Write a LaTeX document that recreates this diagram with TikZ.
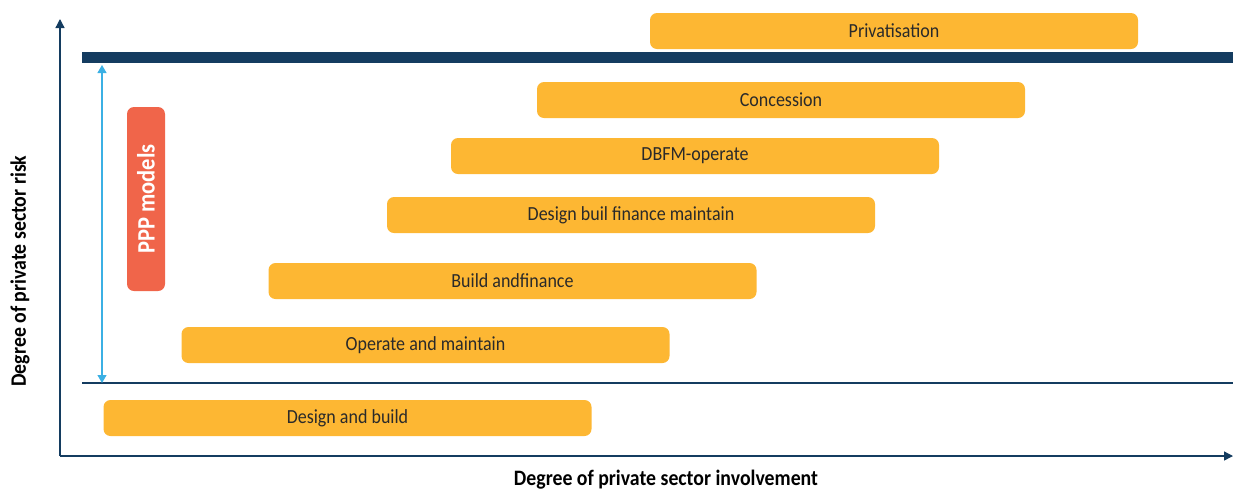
\documentclass[tikz,border=0pt]{standalone}
\usepackage{fontspec}
\setmainfont{Carlito}[FakeStretch=0.9]
\usetikzlibrary{arrows.meta}
\definecolor{navy}{HTML}{143C60}
\definecolor{sky}{HTML}{3BB0E4}
\definecolor{amber}{HTML}{FDB733}
\definecolor{coral}{HTML}{F0654A}
\definecolor{ink}{HTML}{2A2A2A}
\tikzset{
  bar/.style={fill=amber, rounded corners=7pt, draw=none, text=ink, font=\fontsize{20}{22}\selectfont, minimum width=488pt, minimum height=36pt},
  axis/.style={draw=navy, line width=1.3pt, -{Triangle[length=9pt,width=9pt]}},
  axlabel/.style={font=\fontsize{22}{24}\selectfont\bfseries, text=black},
}
\begin{document}
\begin{tikzpicture}[x=1pt,y=-1pt]
\useasboundingbox (0,0) rectangle (1233,491);
% axes
\coordinate (O) at (60,456);
\coordinate (Ytop) at (60,19);
\coordinate (Xend) at (1233,456);
\draw[axis] (O) -- (Ytop);
\draw[axis] (O) -- (Xend);
% separators
\coordinate (ta) at (82,57.5);
\coordinate (tb) at (1233,57.5);
\draw[navy, line width=11pt] (ta) -- (tb);
\coordinate (la) at (82,383);
\coordinate (lb) at (1233,383);
\draw[navy, line width=1.2pt] (la) -- (lb);
% blue double arrow
\coordinate (ba) at (102,65);
\coordinate (bb) at (102,383);
\draw[sky, line width=1.2pt, {Triangle[length=8pt,width=9pt]}-{Triangle[length=8pt,width=9pt]}] (ba) -- (bb);
% bars
\node[bar] (priv) at (894,31) {Privatisation};
\node[bar] (conc) at (781,100) {Concession};
\node[bar] (dbfm) at (695,156) {DBFM-operate};
\node[bar] (dbfmn) at (631,215) {Design buil finance maintain};
\node[bar] (bf) at (512.5,281) {Build andfinance};
\node[bar] (om) at (425.5,345) {Operate and maintain};
\node[bar] (db) at (347.5,418) {Design and build};
% PPP models
\node[fill=coral, rounded corners=7pt, minimum width=38pt, minimum height=184pt, inner sep=0pt] (ppp) at (146,199) {};
\node[rotate=90, text=white, font=\fontsize{25}{27}\selectfont\bfseries] (ppptxt) at (ppp.center) {PPP models};
% axis labels
\node[axlabel, rotate=90] (ylab) at (20,271) {Degree of private sector risk};
\node[axlabel] (xlab) at (666,480) {Degree of private sector involvement};
\end{tikzpicture}
\end{document}
